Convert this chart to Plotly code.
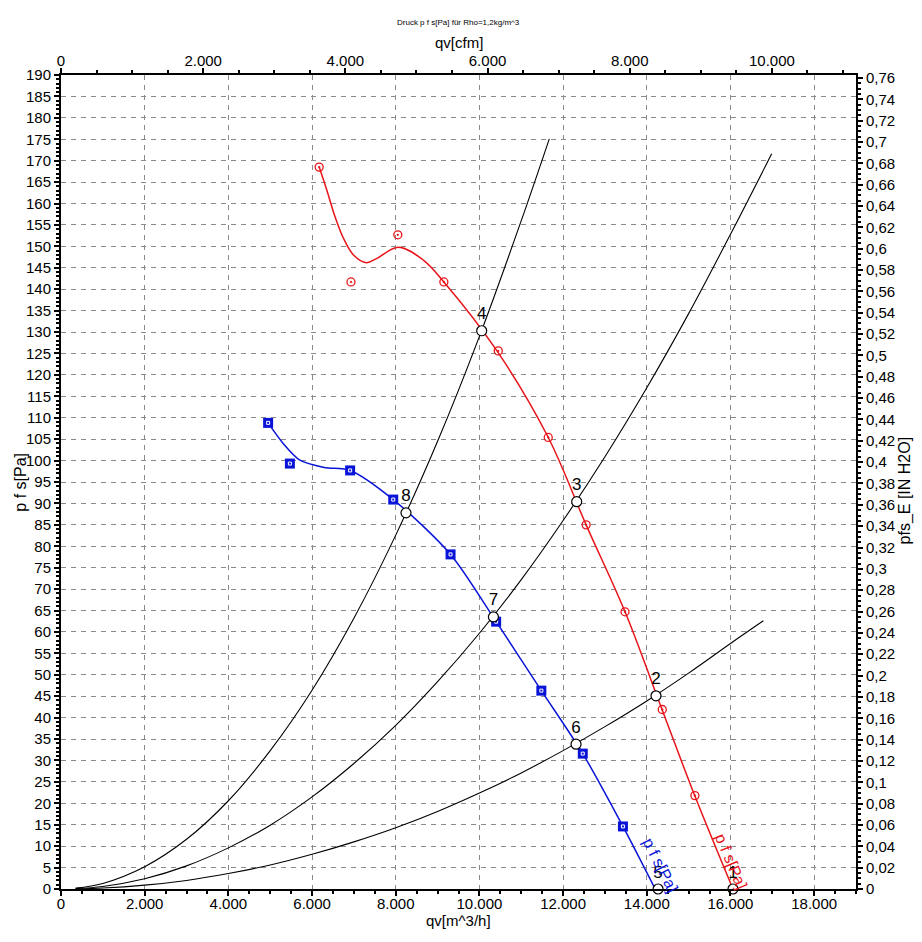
import plotly.graph_objects as go

# fan curves (qv in m^3/h, pfs in Pa)
red_curve_q = [6170, 6350, 6550, 6750, 6990, 7300, 7550, 8060, 8660, 9150, 10420, 11640, 12550,
               13480, 14360, 15150, 16060]
red_curve_p = [168.5, 163.2, 156.9, 151.9, 148, 146.2, 147.2, 149.8, 146.8, 141.7, 125.6, 105.5, 85,
               64.7, 42, 21.7, 0]
red_meas_q = [6170, 6930, 8050, 9150, 10450, 11645, 12550, 13480, 14370, 15150]
red_meas_p = [168.5, 141.7, 152.7, 141.7, 125.6, 105.4, 85, 64.7, 41.9, 21.8]

blue_curve_q = [4950, 5310, 5710, 6290, 6910, 7940, 9310, 10400, 11480, 12470, 13430, 14200]
blue_curve_p = [108.8, 104, 100.1, 98.4, 97.7, 90.9, 78.1, 62.4, 46.3, 31.6, 14.6, 0]
blue_meas_q = [4950, 5470, 6910, 7940, 9310, 10400, 11480, 12470, 13430]
blue_meas_p = [108.8, 99.3, 97.7, 90.9, 78.1, 62.4, 46.3, 31.6, 14.6]

# system curves
sys_q_a = [350, 1000, 2000, 3000, 4000, 5000, 6000, 7000, 8000, 9000, 10000, 11000, 11670]
sys_p_a = [0.2, 1.3, 5.2, 11.6, 20.6, 32.3, 46.4, 63.2, 82.6, 104.5, 129, 156, 175.1]
sys_q_b = [350, 1000, 2000, 3000, 4000, 5000, 6000, 7000, 8000, 9000, 10000, 11000, 12000,
           13000, 14000, 15000, 16000, 16985]
sys_p_b = [0.1, 0.6, 2.4, 5.4, 9.6, 14.9, 21.5, 29.3, 38.2, 48.4, 59.7, 72.2, 86,
           100.9, 117, 134.3, 152.8, 171.6]
sys_q_c = [350, 1000, 2000, 3000, 4000, 5000, 6000, 7000, 8000, 9000, 10000, 11000, 12000,
           13000, 14000, 15000, 16000, 16785]
sys_p_c = [0.03, 0.22, 0.9, 2.0, 3.6, 5.6, 8.1, 11.0, 14.3, 18.1, 22.4, 27.1, 32.3,
           37.9, 43.9, 50.4, 57.3, 62.6]

# operating points
op_q = [16060, 14220, 12325, 10054, 14270, 12309, 10334, 8245]
op_p = [0, 45.1, 90.4, 130.3, 0, 33.8, 63.5, 87.8]
op_labels = ["1", "2", "3", "4", "5", "6", "7", "8"]

M3H_PER_CFM = 1.699
PA_PER_INH2O = 249.089
FONT = "Liberation Sans"

fig = go.Figure()

for q, p in [(sys_q_a, sys_p_a), (sys_q_b, sys_p_b), (sys_q_c, sys_p_c)]:
    fig.add_trace(go.Scatter(x=q, y=p, mode="lines", line=dict(color="black", width=1.1, shape="spline"),
                             hoverinfo="skip", showlegend=False))

fig.add_trace(go.Scatter(x=red_curve_q, y=red_curve_p, mode="lines",
                         line=dict(color="#e8141a", width=1.5, shape="spline", smoothing=1),
                         showlegend=False))
fig.add_trace(go.Scatter(x=red_meas_q, y=red_meas_p, mode="markers",
                         marker=dict(symbol="circle-open-dot", size=8, color="#e8141a", line=dict(width=1.3)),
                         showlegend=False))

fig.add_trace(go.Scatter(x=blue_curve_q, y=blue_curve_p, mode="lines",
                         line=dict(color="#0a14d8", width=1.5, shape="spline", smoothing=0.8),
                         showlegend=False))
fig.add_trace(go.Scatter(x=blue_meas_q, y=blue_meas_p, mode="markers",
                         marker=dict(symbol="square", size=10, color="#0a14d8", line=dict(width=0)),
                         showlegend=False))
fig.add_trace(go.Scatter(x=blue_meas_q, y=blue_meas_p, mode="markers",
                         marker=dict(symbol="square-open", size=3, color="white", line=dict(width=1)),
                         hoverinfo="skip", showlegend=False))

fig.add_trace(go.Scatter(x=op_q, y=op_p, mode="markers+text", text=op_labels, textposition="top center",
                         textfont=dict(family=FONT, size=17, color="black"),
                         marker=dict(symbol="circle", size=10, color="white", line=dict(color="black", width=1.2)),
                         cliponaxis=False, showlegend=False))

# dummy trace so the secondary axes get drawn
fig.add_trace(go.Scatter(x=[0], y=[0], xaxis="x2", yaxis="y2", mode="markers",
                         marker=dict(opacity=0), hoverinfo="skip", showlegend=False))

# curve labels
fig.add_annotation(x=14330, y=5.5, text="p f s[Pa]", textangle=63, showarrow=False,
                   font=dict(family=FONT, size=16, color="#0a14d8"))
fig.add_annotation(x=16020, y=6.5, text="p f s[Pa]", textangle=67, showarrow=False,
                   font=dict(family=FONT, size=16, color="#e8141a"))


# titles
def side_text(x, y, text, size, angle=0):
    fig.add_annotation(xref="paper", yref="paper", x=x, y=y, text=text, textangle=angle,
                       xanchor="center", yanchor="middle", showarrow=False,
                       font=dict(family=FONT, size=size, color="black"))


side_text(0.5, 1.065, "Druck p f s[Pa] für Rho=1,2kg/m^3", 8)
side_text(0.5, 1.04, "qv[cfm]", 15)
side_text(0.5, -0.039, "qv[m^3/h]", 15)
side_text(-0.052, 0.5, "p f s[Pa]", 16, -90)
side_text(1.062, 0.49, "pfs_E [IN H2O]", 16, -90)

grid = dict(showgrid=True, gridcolor="#8a8a8a", gridwidth=1, griddash="5px,5px")
axis_common = dict(showline=True, linecolor="black", linewidth=2, ticks="outside", ticklen=5,
                   tickwidth=1.5, tickcolor="black", zeroline=False,
                   tickfont=dict(family=FONT, size=15, color="black"))

fig.update_layout(
    width=922, height=942,
    margin=dict(l=53, r=74, t=67, b=61),
    plot_bgcolor="white", paper_bgcolor="white",
    separators=",.",
    font=dict(family=FONT, size=15, color="black"),
    xaxis=dict(range=[0, 19000], dtick=2000, tick0=0, tickformat=",.0f", ticklabelstandoff=-5,
               minor=dict(dtick=500, ticklen=3, ticks="outside", tickcolor="black", showgrid=False),
               **grid, **axis_common),
    yaxis=dict(range=[0, 190], dtick=5, tick0=0,
               minor=dict(dtick=1, ticklen=3, ticks="outside", tickcolor="black", showgrid=False),
               **grid, **axis_common),
    xaxis2=dict(overlaying="x", side="top", range=[0, 19000 / M3H_PER_CFM], dtick=2000, tick0=0,
                tickformat=",.0f", showgrid=False, ticklabelstandoff=-4,
                minor=dict(dtick=500, ticklen=3, ticks="outside", tickcolor="black"),
                **axis_common),
    yaxis2=dict(overlaying="y", side="right", range=[0, 190 / PA_PER_INH2O], dtick=0.02, tick0=0,
                showgrid=False,
                minor=dict(dtick=0.005, ticklen=3, ticks="outside", tickcolor="black"),
                **axis_common),
)

fig.write_html("out.html")
